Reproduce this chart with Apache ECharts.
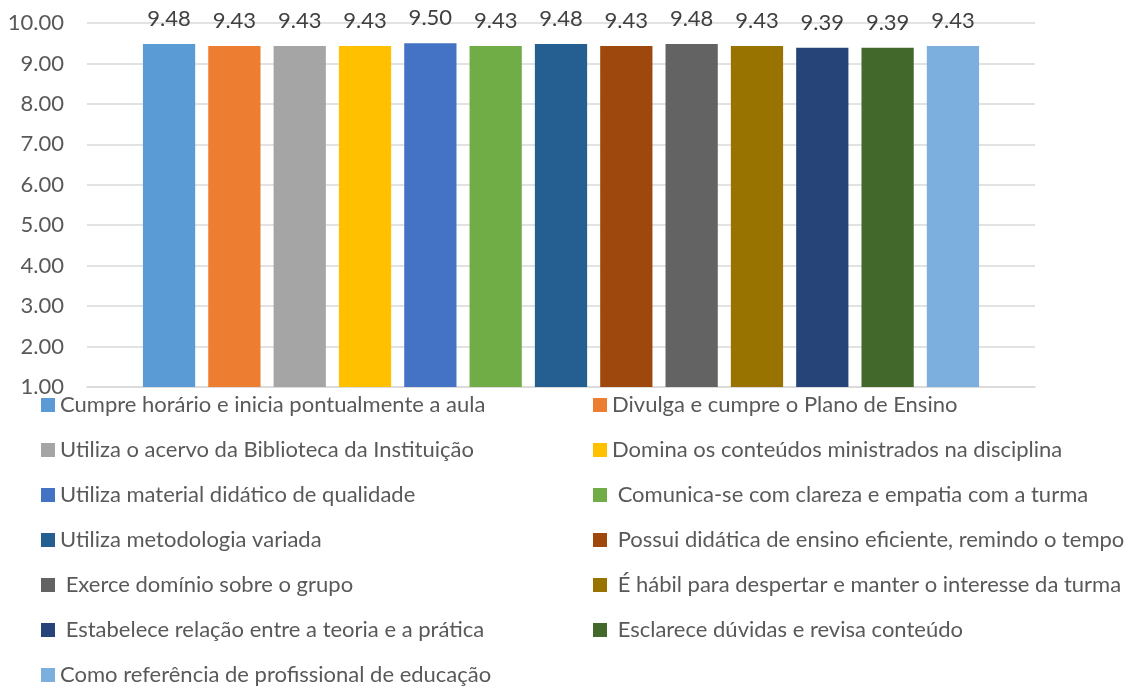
<!DOCTYPE html>
<html>
<head>
<meta charset="utf-8">
<script src="https://cdn.jsdelivr.net/npm/echarts@6/dist/echarts.min.js"></script>
<style>
  html, body { margin: 0; padding: 0; background: #fff; }
  #chart { width: 1144px; height: 688px; }
</style>
</head>
<body>
<div id="chart"></div>
<script>
// Average score per evaluated item (scale 1–10)
const items = [
  'Cumpre horário e inicia pontualmente a aula',
  'Divulga e cumpre o Plano de Ensino',
  'Utiliza o acervo da Biblioteca da Instituição',
  'Domina os conteúdos ministrados na disciplina',
  'Utiliza material didático de qualidade',
  ' Comunica-se com clareza e empatia com a turma',
  'Utiliza metodologia variada',
  ' Possui didática de ensino eficiente, remindo o tempo',
  ' Exerce domínio sobre o grupo',
  ' É hábil para despertar e manter o interesse da turma',
  ' Estabelece relação entre a teoria e a prática',
  ' Esclarece dúvidas e revisa conteúdo',
  'Como referência de profissional de educação'
];
const scores = [9.48, 9.43, 9.43, 9.43, 9.50, 9.43, 9.48, 9.43, 9.48, 9.43, 9.39, 9.39, 9.43];
const colors = ['#5B9BD5', '#ED7D31', '#A5A5A5', '#FFC000', '#4472C4', '#70AD47',
                '#255E91', '#9E480E', '#636363', '#997300', '#264478', '#43682B', '#7CAFDD'];

const FONT = 'Lato';
const FS = 22;

const series = items.map((name, i) => ({
  name: name,
  type: 'bar',
  data: [scores[i]],
  itemStyle: { color: colors[i] },
  barGap: '25%',
  barCategoryGap: '11.8%',
  label: {
    show: true,
    position: 'top',
    distance: 14,
    formatter: p => p.value.toFixed(2),
    color: '#404040',
    fontFamily: FONT,
    fontSize: FS
  }
}));

const legendBase = {
  orient: 'vertical',
  top: 394,
  height: 330,
  padding: 0,
  itemWidth: 14,
  itemHeight: 14,
  itemGap: 23,
  icon: 'rect',
  textStyle: { color: '#595959', fontFamily: FONT, fontSize: FS },
  selectedMode: false
};

const chart = echarts.init(document.getElementById('chart'));
chart.setOption({
  animation: false,
  color: colors,
  grid: { left: 87, right: 109, top: 23, bottom: 301 },
  xAxis: {
    type: 'category',
    data: [''],
    axisLine: { show: true, lineStyle: { color: '#D9D9D9', width: 1.5 } },
    axisTick: { show: false },
    axisLabel: { show: false }
  },
  yAxis: {
    type: 'value',
    min: 1,
    max: 10,
    interval: 1,
    axisLine: { show: false },
    axisTick: { show: false },
    axisLabel: {
      formatter: v => v.toFixed(2),
      color: '#595959',
      fontFamily: FONT,
      fontSize: FS,
      margin: 23
    },
    splitLine: { lineStyle: { color: '#D9D9D9', width: 1.5 } }
  },
  legend: [
    Object.assign({}, legendBase, { left: 41, data: items.filter((_, i) => i % 2 === 0) }),
    Object.assign({}, legendBase, { left: 593, data: items.filter((_, i) => i % 2 === 1) })
  ],
  series: series
});
</script>
</body>
</html>
